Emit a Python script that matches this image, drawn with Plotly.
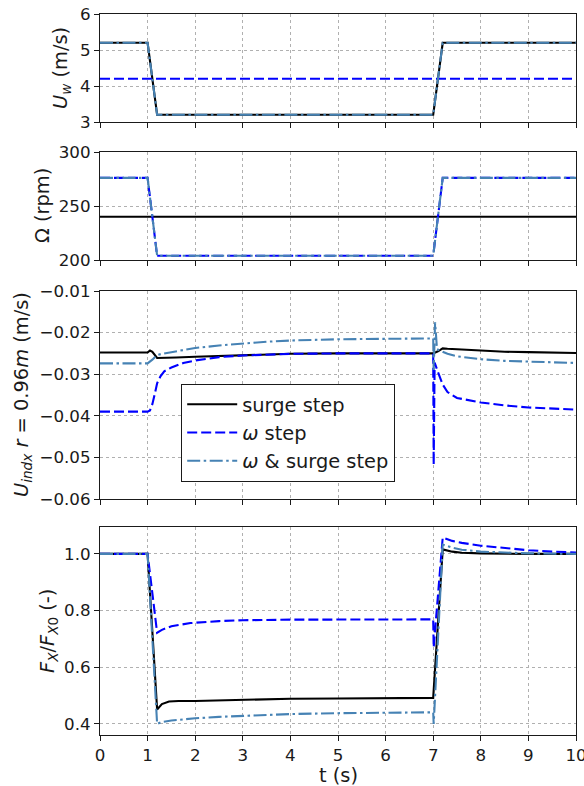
import plotly.graph_objects as go
from plotly.subplots import make_subplots

# ---------------------------------------------------------------------------
# Prescribed inputs: breakpoints of the wind-speed / rotor-speed steps
# ---------------------------------------------------------------------------
t_step = [0.0, 1.0, 1.2, 7.0, 7.2, 10.0]
uw_surge = [5.2, 5.2, 3.2, 3.2, 5.2, 5.2]
uw_omega = [4.2, 4.2, 4.2, 4.2, 4.2, 4.2]
uw_both = [5.2, 5.2, 3.2, 3.2, 5.2, 5.2]

rpm_surge = [240, 240, 240, 240, 240, 240]
rpm_omega = [276, 276, 204, 204, 276, 276]
rpm_both = [276, 276, 204, 204, 276, 276]

# ---------------------------------------------------------------------------
# Induced axial velocity at r = 0.96 m (m/s)
# ---------------------------------------------------------------------------
t_ind_surge = [0.0, 1.0, 1.05, 1.1, 1.2, 1.3, 1.6, 2.0, 2.5, 3.0, 4.0, 5.0, 6.0,
               7.0, 7.1, 7.2, 7.3, 7.6, 8.0, 8.5, 9.0, 9.5, 10.0]
ind_surge = [-0.0248, -0.0248, -0.0243, -0.0246, -0.0261, -0.0261, -0.0260, -0.0258,
             -0.0256, -0.0254, -0.0251, -0.0250, -0.0250, -0.0250, -0.0245, -0.0238,
             -0.0239, -0.0241, -0.0244, -0.0246, -0.0247, -0.0248, -0.0249]

t_ind_omega = [0.0, 1.0, 1.05, 1.1, 1.15, 1.2, 1.27, 1.35, 1.5, 1.75, 2.0, 2.5, 3.0,
               4.0, 5.0, 6.0, 7.0, 7.01, 7.03, 7.1, 7.2, 7.3, 7.5, 8.0, 8.5, 9.0,
               9.5, 10.0]
ind_omega = [-0.0390, -0.0390, -0.0387, -0.0372, -0.0348, -0.0322, -0.0305, -0.0293,
             -0.0284, -0.0273, -0.0267, -0.0259, -0.0255, -0.0251, -0.0250, -0.0250,
             -0.0250, -0.0518, -0.0272, -0.0295, -0.0325, -0.0343, -0.0357, -0.0368,
             -0.0375, -0.0380, -0.0383, -0.0385]

t_ind_both = [0.0, 1.0, 1.1, 1.2, 1.3, 1.5, 2.0, 2.5, 3.0, 3.5, 4.0, 5.0, 6.0, 7.0,
              7.01, 7.04, 7.08, 7.15, 7.3, 7.5, 8.0, 8.5, 9.0, 9.5, 10.0]
ind_both = [-0.0274, -0.0274, -0.0265, -0.0254, -0.0251, -0.0247, -0.0237, -0.0231,
            -0.0226, -0.0222, -0.0219, -0.0216, -0.0215, -0.0214, -0.0290, -0.0175,
            -0.0240, -0.0243, -0.0251, -0.0257, -0.0264, -0.0268, -0.0270, -0.0272,
            -0.0273]

# ---------------------------------------------------------------------------
# Normalised thrust F_X / F_X0 (-)
# ---------------------------------------------------------------------------
t_fx_surge = [0.0, 1.0, 1.2, 1.3, 1.45, 1.65, 2.0, 3.0, 4.0, 5.0, 6.0, 7.0, 7.2,
              7.4, 7.6, 8.0, 9.0, 10.0]
fx_surge = [1.0, 1.0, 0.451, 0.470, 0.479, 0.481, 0.481, 0.485, 0.489, 0.490, 0.491,
            0.492, 1.016, 1.008, 1.004, 1.002, 1.000, 1.000]

t_fx_omega = [0.0, 1.0, 1.2, 1.3, 1.5, 1.9, 2.5, 3.0, 4.0, 5.0, 7.0, 7.01, 7.2, 7.4,
              7.6, 8.0, 8.5, 9.0, 9.5, 10.0]
fx_omega = [1.0, 1.0, 0.722, 0.732, 0.745, 0.756, 0.763, 0.766, 0.768, 0.769, 0.769,
            0.670, 1.058, 1.046, 1.039, 1.029, 1.020, 1.013, 1.008, 1.005]

t_fx_both = [0.0, 1.0, 1.2, 1.3, 1.5, 2.0, 2.5, 3.0, 4.0, 5.0, 6.0, 7.0, 7.01, 7.2,
             7.4, 7.6, 8.0, 8.5, 9.0, 10.0]
fx_both = [1.0, 1.0, 0.400, 0.407, 0.412, 0.420, 0.425, 0.429, 0.435, 0.438, 0.440,
           0.441, 0.400, 1.033, 1.022, 1.015, 1.008, 1.004, 1.002, 1.000]

# axis tick labels
x_ticks = list(range(0, 11))
uw_ticks = [3, 4, 5, 6]
rpm_ticks = [200, 250, 300]
ind_ticks = [-0.06, -0.05, -0.04, -0.03, -0.02, -0.01]
ind_ticktext = ["\u22120.06", "\u22120.05", "\u22120.04", "\u22120.03", "\u22120.02", "\u22120.01"]
fx_ticks = [0.4, 0.6, 0.8, 1.0]
fx_ticktext = ["0.4", "0.6", "0.8", "1.0"]

series_names = ["surge step", "<i>\u03c9</i> step", "<i>\u03c9</i> & surge step"]

# ---------------------------------------------------------------------------
FONT = "DejaVu Sans"
INK = "#1a1a1a"
BLACK = "#000000"
BLUE = "#0000ff"
STEEL = "#4682b4"
LW = 2.1
styles = [
    dict(color=BLACK, width=LW, dash="solid"),
    dict(color=BLUE, width=LW, dash="10px,4px"),
    dict(color=STEEL, width=LW, dash="13px,3.5px,2.5px,3.5px"),
]

fig = make_subplots(rows=4, cols=1, shared_xaxes=True)

panels = [
    (1, [(t_step, uw_surge), (t_step, uw_omega), (t_step, uw_both)]),
    (2, [(t_step, rpm_surge), (t_step, rpm_omega), (t_step, rpm_both)]),
    (3, [(t_ind_surge, ind_surge), (t_ind_omega, ind_omega), (t_ind_both, ind_both)]),
    (4, [(t_fx_surge, fx_surge), (t_fx_omega, fx_omega), (t_fx_both, fx_both)]),
]
for row, curves in panels:
    for k, (tx, vy) in enumerate(curves):
        fig.add_trace(
            go.Scatter(
                x=tx, y=vy, mode="lines", name=series_names[k],
                line=styles[k], showlegend=(row == 3), hoverinfo="skip",
            ),
            row=row, col=1,
        )

# pixel layout of the four panels (figure 584 x 786)
W, H = 584, 786
L, R, T, B = 100, 8, 14, 51
plot_h = H - T - B
plot_w = W - L - R
panel_px = [(14, 122), (152, 260), (291, 499), (527, 735)]


def dom(top, bot):
    return [(H - B - bot) / plot_h, (H - B - top) / plot_h]


axis_common = dict(
    showline=True, linecolor=INK, linewidth=1.1, mirror=True,
    ticks="outside", ticklen=5, tickwidth=1.1, tickcolor=INK,
    showgrid=True, gridcolor="#b0b0b0", gridwidth=1, griddash="dot",
    zeroline=False, automargin=False,
    tickfont=dict(family=FONT, size=16.7, color=INK),
)

yranges = [[3, 6], [200, 300], [-0.06, -0.01], [0.361, 1.095]]
ytickv = [uw_ticks, rpm_ticks, ind_ticks, fx_ticks]
ytickt = [[str(v) for v in uw_ticks], [str(v) for v in rpm_ticks], ind_ticktext, fx_ticktext]

for i in range(4):
    sfx = "" if i == 0 else str(i + 1)
    fig.layout["xaxis" + sfx].update(
        domain=[0, 1], range=[0, 10], tickvals=x_ticks,
        ticktext=[str(v) for v in x_ticks], showticklabels=(i == 3),
        ticklabeloverflow="allow", **axis_common,
    )
    fig.layout["yaxis" + sfx].update(
        domain=dom(*panel_px[i]), range=yranges[i], tickvals=ytickv[i],
        ticktext=ytickt[i], **axis_common,
    )

# axis titles
TITLE_SIZE = 19.4
ytitles = [
    ("<i>U</i><sub><i>w</i></sub> (m/s)", 62),
    ("\u03a9 (rpm)", 42),
    ("<i>U</i><sub><i>indx</i></sub> <i>r</i> = 0.96<i>m</i> (m/s)", 22),
    ("<i>F</i><sub><i>X</i></sub>/<i>F</i><sub><i>X</i>0</sub> (-)", 48),
]
for (txt, xc), (top, bot) in zip(ytitles, panel_px):
    fig.add_annotation(
        text=txt, textangle=-90, xref="paper", yref="paper",
        x=(xc - L) / plot_w, y=(H - B - (top + bot) / 2) / plot_h,
        xanchor="center", yanchor="middle", showarrow=False,
        font=dict(family=FONT, size=TITLE_SIZE, color=INK),
    )
fig.add_annotation(
    text="t (s)", xref="paper", yref="paper",
    x=0.5, y=(H - B - 775) / plot_h, xanchor="center", yanchor="middle",
    height=20, borderpad=0, valign="middle",
    showarrow=False, font=dict(family=FONT, size=TITLE_SIZE, color=INK),
)

fig.update_layout(
    width=W, height=H,
    margin=dict(l=L, r=R, t=T, b=B, pad=0, autoexpand=False),
    paper_bgcolor="white", plot_bgcolor="white",
    font=dict(family=FONT, size=16.7, color=INK),
    legend=dict(
        x=(181 - L) / plot_w, y=(H - B - 384) / plot_h,
        xanchor="left", yanchor="top",
        bgcolor="white", bordercolor=INK, borderwidth=1.2,
        font=dict(family=FONT, size=TITLE_SIZE, color=INK),
        itemwidth=50, tracegroupgap=0,
    ),
)

fig.write_html("out.html")
